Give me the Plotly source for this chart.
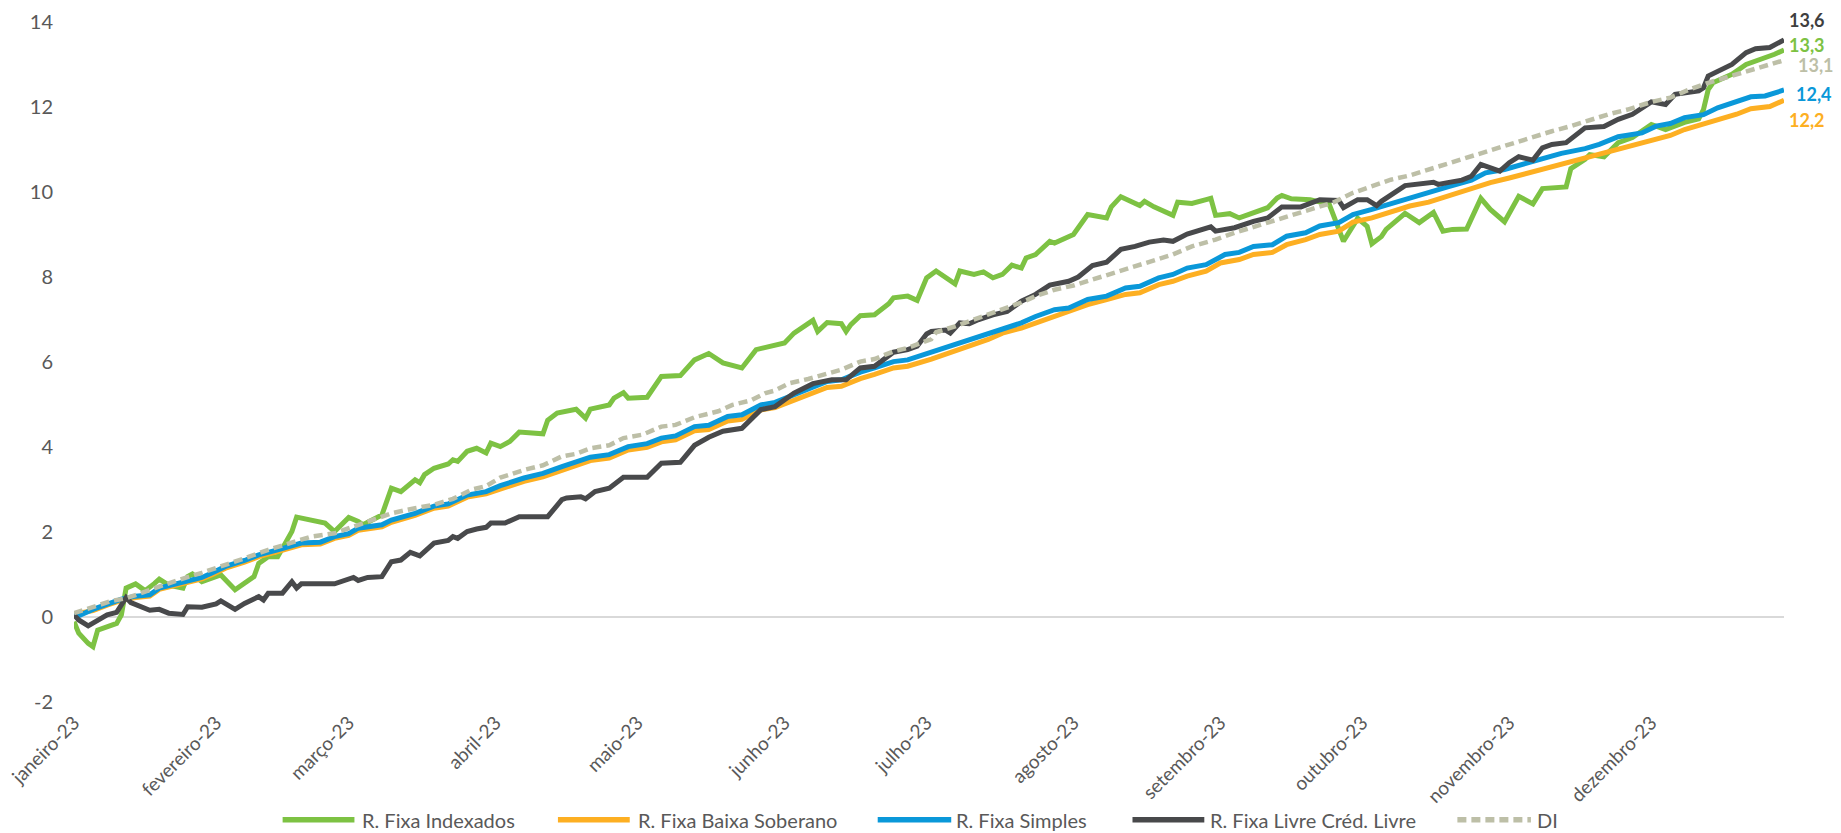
import plotly.graph_objects as go

# ---------------- data ----------------
green_dates = ["01-02","01-03","01-05","01-06","01-07","01-09","01-11","01-12","01-13","01-15","01-17","01-19","01-20","01-22","01-25","01-26","01-27","01-29","01-31",
 "02-02","02-05","02-07","02-09","02-10","02-12","02-14","02-17","02-18","02-21","02-24","02-26",
 "03-01","03-03","03-04","03-08","03-10","03-12","03-15","03-16","03-17","03-19","03-22","03-23","03-24","03-26","03-28","03-30","03-31",
 "04-02","04-04","04-06","04-11","04-12","04-14","04-18","04-20","04-21","04-25","04-26","04-28","04-29",
 "05-03","05-06","05-10","05-13","05-16","05-19","05-23","05-26","05-30",
 "06-01","06-03","06-07","06-08","06-10","06-13","06-14","06-15","06-17","06-20","06-23","06-24","06-27","06-29",
 "07-01","07-03","07-07","07-08","07-11","07-13","07-15","07-17","07-19","07-21","07-22","07-24","07-27","07-28",
 "08-01","08-04","08-08","08-09","08-11","08-15","08-16","08-18","08-22","08-23","08-26","08-29","08-30","08-31",
 "09-03","09-05","09-08","09-11","09-13","09-14","09-16","09-18","09-20","09-24","09-25","09-26","09-27","09-30",
 "10-02","10-03","10-05","10-06","10-10","10-13","10-16","10-18","10-20","10-23","10-26","10-28","10-31",
 "11-03","11-06","11-08","11-13","11-14","11-17","11-18","11-21","11-24","11-27",
 "12-01","12-04","12-08","12-11","12-12","12-13","12-14","12-16","12-18","12-21","12-25","12-27","12-29"]
green_vals = [-0.11,-0.38,-0.62,-0.70,-0.31,-0.23,-0.15,0.05,0.68,0.78,0.62,0.79,0.89,0.75,0.68,0.95,1.01,0.83,0.90,
 0.99,0.64,0.79,0.95,1.26,1.42,1.42,2.01,2.35,2.27,2.21,2.01,
 2.34,2.25,2.17,2.40,3.03,2.95,3.23,3.16,3.35,3.50,3.60,3.70,3.66,3.90,3.97,3.86,4.09,
 4.01,4.13,4.35,4.31,4.63,4.80,4.89,4.68,4.89,4.99,5.15,5.28,5.15,
 5.17,5.66,5.68,6.05,6.20,5.98,5.86,6.29,6.38,
 6.45,6.68,6.98,6.72,6.93,6.90,6.72,6.88,7.09,7.11,7.37,7.51,7.55,7.45,
 7.98,8.14,7.84,8.14,8.06,8.12,7.98,8.06,8.28,8.21,8.45,8.53,8.84,8.80,
 9.00,9.47,9.39,9.65,9.89,9.68,9.78,9.65,9.45,9.76,9.73,9.82,9.85,9.45,
 9.49,9.39,9.51,9.63,9.86,9.92,9.84,9.82,9.82,9.71,9.43,9.12,8.84,9.38,
 9.19,8.78,8.95,9.12,9.50,9.28,9.52,9.08,9.12,9.13,9.85,9.59,9.30,
 9.90,9.72,10.08,10.12,10.55,10.77,10.88,10.83,11.16,11.28,
 11.59,11.47,11.64,11.72,11.94,12.41,12.57,12.67,12.77,13.00,13.14,13.24,13.34]

orange_dates = ["01-02","01-06","01-09","01-12","01-15","01-18","01-20","01-24","01-29","01-31",
 "02-03","02-07","02-10","02-14","02-19","02-23","02-26",
 "03-01","03-03","03-08","03-10","03-15","03-19","03-22","03-26","03-30",
 "04-02","04-07","04-11","04-15","04-21","04-25","04-29",
 "05-03","05-06","05-09","05-13","05-16","05-20","05-23","05-27","05-30",
 "06-03","06-06","06-10","06-13","06-17","06-20","06-24","06-27",
 "07-02","07-14","07-17","07-21","07-24","07-28","07-31",
 "08-04","08-08","08-12","08-15","08-19","08-22","08-25","08-29",
 "09-01","09-05","09-08","09-12","09-15","09-19","09-22","09-26","09-29",
 "10-03","10-07","10-11","10-15","10-20","10-24","10-28",
 "11-01","11-05","11-10","11-14","11-18","11-22","11-27",
 "12-01","12-05","12-08","12-12","12-16","12-19","12-22","12-26","12-29"]
orange_vals = [0.07,0.15,0.28,0.39,0.46,0.49,0.65,0.75,0.90,0.99,
 1.15,1.29,1.42,1.54,1.70,1.72,1.85,
 1.92,2.04,2.12,2.23,2.39,2.56,2.61,2.82,2.90,
 3.02,3.19,3.30,3.46,3.68,3.74,3.93,
 3.99,4.12,4.17,4.38,4.41,4.61,4.65,4.87,4.93,
 5.10,5.21,5.40,5.43,5.61,5.71,5.86,5.90,
 6.07,6.53,6.68,6.80,6.92,7.07,7.19,
 7.35,7.47,7.59,7.63,7.82,7.90,8.02,8.14,
 8.33,8.41,8.53,8.58,8.76,8.88,9.00,9.08,9.29,
 9.39,9.52,9.67,9.76,9.94,10.07,10.22,
 10.33,10.45,10.57,10.70,10.83,10.96,11.10,
 11.22,11.33,11.47,11.59,11.72,11.83,11.96,12.01,12.16]

blue_dates = ["01-02","01-03","01-06","01-09","01-12","01-15","01-18","01-20","01-24","01-29","01-31",
 "02-03","02-07","02-10","02-14","02-19","02-23","02-26",
 "03-01","03-03","03-08","03-10","03-15","03-19","03-22","03-26","03-30",
 "04-02","04-07","04-11","04-15","04-21","04-25","04-29",
 "05-03","05-06","05-09","05-13","05-16","05-20","05-23","05-27","05-30",
 "06-03","06-06","06-10","06-13","06-17","06-20","06-24","06-27",
 "07-02","07-10","07-14","07-17","07-21","07-24","07-28","07-31",
 "08-04","08-08","08-12","08-15","08-19","08-22","08-25","08-29",
 "09-02","09-05","09-08","09-12","09-15","09-19","09-22","09-26","09-29",
 "10-03","10-07","10-11","10-15","10-19","10-24","10-27","10-31",
 "11-05","11-09","11-12","11-17","11-20","11-24","11-29",
 "12-02","12-05","12-08","12-12","12-15","12-18","12-22","12-25","12-29"]
blue_vals = [0.09,0.03,0.18,0.31,0.42,0.49,0.52,0.68,0.78,0.93,1.03,
 1.19,1.33,1.46,1.58,1.74,1.76,1.89,
 1.96,2.09,2.17,2.28,2.44,2.61,2.66,2.87,2.95,
 3.09,3.27,3.38,3.54,3.76,3.82,4.01,
 4.08,4.21,4.26,4.48,4.51,4.72,4.76,4.99,5.05,
 5.23,5.35,5.54,5.58,5.76,5.86,6.01,6.05,
 6.23,6.53,6.68,6.76,6.92,7.07,7.23,7.27,
 7.47,7.55,7.74,7.78,7.98,8.06,8.21,8.29,
 8.53,8.58,8.72,8.76,8.96,9.04,9.20,9.28,9.47,
 9.59,9.73,9.86,9.98,10.12,10.28,10.45,10.53,
 10.69,10.80,10.91,11.02,11.12,11.30,11.39,
 11.55,11.61,11.75,11.82,11.98,12.08,12.24,12.26,12.40]

black_dates = ["01-02","01-03","01-05","01-07","01-09","01-11","01-13","01-14","01-18","01-20","01-22","01-25","01-26","01-29",
 "02-01","02-02","02-05","02-07","02-10","02-11","02-12","02-15","02-17","02-18","02-19","02-26","02-28",
 "03-02","03-03","03-05","03-08","03-09","03-10","03-12","03-14","03-16","03-19","03-22","03-23","03-24","03-26","03-28","03-30","03-31",
 "04-03","04-06","04-12","04-15","04-16","04-19","04-20","04-22","04-25","04-28",
 "05-03","05-06","05-10","05-13","05-16","05-19","05-23","05-27","05-30",
 "06-03","06-07","06-11","06-14","06-17","06-20","06-24","06-27","06-29",
 "07-01","07-02","07-05","07-06","07-08","07-10","07-12","07-15","07-18","07-21","07-24","07-27","07-31",
 "08-02","08-05","08-08","08-11","08-14","08-17","08-20","08-22","08-25","08-29","08-30","08-31",
 "09-04","09-08","09-11","09-14","09-18","09-22","09-26","09-27","09-30",
 "10-02","10-04","10-05","10-07","10-10","10-16","10-17","10-19","10-22","10-24","10-26","10-30",
 "11-01","11-03","11-06","11-08","11-10","11-13","11-17","11-21","11-24","11-27",
 "12-01","12-04","12-06","12-11","12-12","12-13","12-15","12-18","12-21","12-23","12-26","12-27","12-29"]
black_vals = [0.05,-0.07,-0.21,-0.07,0.05,0.11,0.46,0.34,0.16,0.18,0.09,0.06,0.24,0.23,
 0.31,0.38,0.18,0.32,0.48,0.40,0.56,0.56,0.83,0.68,0.78,0.78,0.85,
 0.93,0.86,0.93,0.95,1.11,1.30,1.34,1.52,1.44,1.74,1.80,1.89,1.85,2.01,2.07,2.11,2.21,
 2.21,2.36,2.36,2.76,2.80,2.83,2.78,2.95,3.03,3.29,
 3.29,3.62,3.64,4.04,4.23,4.37,4.44,4.88,4.95,
 5.27,5.49,5.58,5.58,5.86,5.90,6.23,6.29,6.37,
 6.66,6.72,6.75,6.68,6.92,6.90,7.00,7.11,7.19,7.43,7.59,7.81,7.90,
 8.00,8.27,8.35,8.65,8.72,8.82,8.87,8.84,9.01,9.16,9.18,9.08,
 9.16,9.31,9.39,9.65,9.65,9.82,9.80,9.63,9.82,
 9.82,9.68,9.78,9.94,10.15,10.23,10.18,10.22,10.28,10.37,10.65,10.49,
 10.69,10.83,10.75,11.04,11.12,11.16,11.51,11.54,11.71,11.83,
 12.12,12.06,12.30,12.38,12.45,12.73,12.85,13.00,13.28,13.37,13.40,13.47,13.58]

di_dates = ["01-02","01-06","01-10","01-13","01-17","01-20","01-24","01-29",
 "02-03","02-07","02-12","02-17","02-21","02-26",
 "03-02","03-06","03-10","03-15","03-19","03-23","03-27","03-30",
 "04-02","04-04","04-07","04-11","04-15","04-18","04-21","04-25","04-28",
 "05-02","05-06","05-09","05-13","05-18","05-21","05-25","05-28","05-30",
 "06-02","06-06","06-11","06-13","06-17","06-20","06-24","06-27",
 "07-02","07-03","07-07","07-10","07-14","07-17","07-21","07-24","07-28",
 "08-01","08-05","08-09","08-14","08-18","08-22","08-26","08-31",
 "09-04","09-08","09-12","09-16","09-21","09-25","09-29",
 "10-03","10-07","10-11","10-15","10-20","10-24","10-28",
 "11-01","11-05","11-10","11-14","11-18","11-22","11-26",
 "12-01","12-05","12-09","12-13","12-16","12-20","12-24","12-29"]
di_vals = [0.09,0.24,0.38,0.44,0.60,0.73,0.87,1.04,
 1.22,1.38,1.58,1.76,1.89,1.97,
 2.13,2.28,2.44,2.56,2.64,2.78,3.00,3.08,
 3.28,3.35,3.46,3.57,3.78,3.84,3.97,4.04,4.21,
 4.29,4.48,4.52,4.70,4.84,4.99,5.10,5.27,5.33,
 5.50,5.60,5.76,5.82,6.01,6.07,6.25,6.33,
 6.54,6.70,6.84,6.96,7.11,7.23,7.40,7.55,7.70,
 7.80,7.94,8.10,8.25,8.41,8.53,8.72,8.88,
 9.04,9.18,9.31,9.47,9.63,9.76,9.98,
 10.14,10.29,10.39,10.53,10.69,10.84,10.96,
 11.10,11.24,11.43,11.55,11.69,11.83,11.94,
 12.12,12.22,12.41,12.57,12.67,12.81,12.95,13.10]

series_names = ["R. Fixa Indexados", "R. Fixa Baixa Soberano", "R. Fixa Simples",
                "R. Fixa Livre Créd. Livre", "DI"]
month_ticks = ["2023-01-02","2023-02-01","2023-03-01","2023-04-01","2023-05-01","2023-06-01",
               "2023-07-01","2023-08-01","2023-09-01","2023-10-01","2023-11-01","2023-12-01"]
month_labels = ["janeiro-23","fevereiro-23","março-23","abril-23","maio-23","junho-23",
                "julho-23","agosto-23","setembro-23","outubro-23","novembro-23","dezembro-23"]
y_ticks = [-2, 0, 2, 4, 6, 8, 10, 12, 14]
y_tick_labels = ["-2", "0", "2", "4", "6", "8", "10", "12", "14"]

# ---------------- styling ----------------
colors = ["#7DC243", "#FDAF22", "#0A98D9", "#48494B", "#BDBFA7"]
label_colors = ["#7DC243", "#FDAF22", "#0A98D9", "#3F3F3F", "#BDBFA7"]
label_shift = [(3, 5), (3, -20), (10, -4), (3, 20), (12, -5)]   # pixel offsets of end labels
FONT = "Lato"
TXT = "#595959"

# custom legend layout (paper fractions of the plot area): line start, line end, text start
legend_pos = [(0.122, 0.164, 0.168), (0.283, 0.325, 0.329), (0.470, 0.513, 0.515),
              (0.619, 0.661, 0.664), (0.809, 0.852, 0.855)]
legend_y = -0.173

def full(d):
    return ["2023-" + s for s in d]

all_dates = [green_dates, orange_dates, blue_dates, black_dates, di_dates]
all_vals = [green_vals, orange_vals, blue_vals, black_vals, di_vals]

fig = go.Figure()
for i, (name, d, v) in enumerate(zip(series_names, all_dates, all_vals)):
    line = dict(color=colors[i], width=5)
    if name == "DI":
        line = dict(color=colors[i], width=4.5, dash="9px,5px")
    fig.add_trace(go.Scatter(x=full(d), y=v, mode="lines", name=name, line=line,
                             hoverinfo="skip", showlegend=False))

for i, (d, v) in enumerate(zip(all_dates, all_vals)):
    txt = f"{v[-1]:.1f}".replace(".", ",")
    fig.add_annotation(x="2023-" + d[-1], y=v[-1], text=f"<b>{txt}</b>", showarrow=False,
                       xanchor="left", yanchor="middle",
                       xshift=label_shift[i][0], yshift=label_shift[i][1],
                       font=dict(family=FONT, size=18, color=label_colors[i]))

# legend drawn below the axis
for i, name in enumerate(series_names):
    x0, x1, xt = legend_pos[i]
    fig.add_shape(type="line", xref="paper", yref="paper", x0=x0, x1=x1, y0=legend_y, y1=legend_y,
                  line=dict(color=colors[i], width=5.5, dash="9px,5px" if name == "DI" else "solid"))
    fig.add_annotation(xref="paper", yref="paper", x=xt, y=legend_y, text=name, showarrow=False,
                       xanchor="left", yanchor="middle", borderpad=0,
                       font=dict(family=FONT, size=20, color=TXT))

# the page body adds an 8px offset, so the figure is 8px smaller than the window
fig.update_layout(
    width=1833, height=825,
    margin=dict(l=66, r=57, t=14, b=131, autoexpand=False),
    paper_bgcolor="white", plot_bgcolor="white",
    font=dict(family=FONT, size=20, color=TXT),
    showlegend=False,
)
fig.update_xaxes(type="date", range=["2023-01-02", "2023-12-29"],
                 tickvals=month_ticks, ticktext=month_labels, tickangle=-45,
                 showgrid=False, showline=False, zeroline=False, ticks="",
                 ticklabelstandoff=5, automargin=False, ticklabeloverflow="allow",
                 tickfont=dict(family=FONT, size=19, color=TXT))
fig.update_yaxes(range=[-2, 14], tickvals=y_ticks, ticktext=y_tick_labels,
                 showgrid=False, showline=False,
                 zeroline=True, zerolinecolor="#D9D9D9", zerolinewidth=2,
                 ticks="", ticklabelstandoff=20, automargin=False,
                 tickfont=dict(family=FONT, size=20, color=TXT))

fig.write_html("out.html")
